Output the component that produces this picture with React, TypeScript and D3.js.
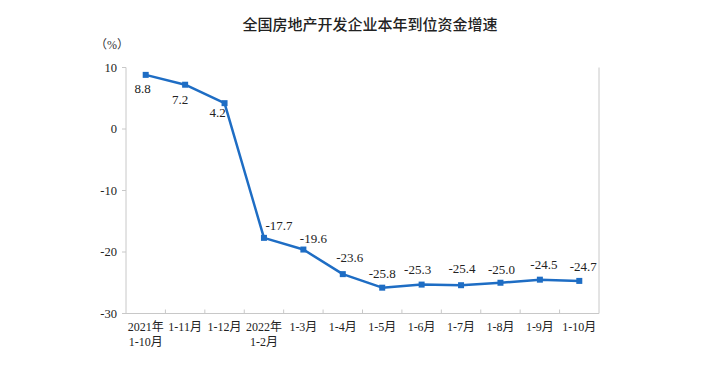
import React from "react";
import * as d3 from "d3";

const categories: string[][] = [
  ["2021年", "1-10月"], ["1-11月"], ["1-12月"], ["2022年", "1-2月"], ["1-3月"], ["1-4月"],
  ["1-5月"], ["1-6月"], ["1-7月"], ["1-8月"], ["1-9月"], ["1-10月"],
];
const values: number[] = [8.8, 7.2, 4.2, -17.7, -19.6, -23.6, -25.8, -25.3, -25.4, -25.0, -24.5, -24.7];
const yTicks: number[] = [10, 0, -10, -20, -30];
const labelOffsets: [number, number][] = [
  [-3, 18], [-5, 19], [-7, 14], [15, -8], [10, -7], [7, -12],
  [0, -10], [-4, -11], [1, -12], [1, -9], [4, -11], [4, -10],
];

export default function App() {
  const W = 710, H = 376;
  const left = 126, right = 599, top = 67.5, bottom = 313.5;
  const x = d3.scaleBand<number>().domain(d3.range(categories.length)).range([left, right]);
  const y = d3.scaleLinear().domain([-30, 10]).range([bottom, top]);
  const line = d3.line<number>().x((_, i) => x(i)! + x.bandwidth() / 2).y((d) => y(d));
  const serif = "'Liberation Serif', 'Times New Roman', 'Noto Sans CJK SC', serif";
  const axisColor = "#c8c8c8";
  const blue = "#1e6dc4";
  return (
    <svg width={W} height={H} style={{ position: "absolute", left: 0, top: 0, background: "#fff" }}>
      <text x={370} y={30} textAnchor="middle" fontFamily="'Noto Sans CJK SC', sans-serif" fontSize={15} fontWeight={500} fill="#222">
        全国房地产开发企业本年到位资金增速
      </text>
      <text x={112} y={49} textAnchor="middle" fontFamily={serif} fontSize={12} fill="#333">（%）</text>
      <line x1={left} x2={left} y1={top} y2={bottom} stroke={axisColor} />
      <line x1={right} x2={right} y1={top} y2={bottom} stroke={axisColor} />
      <line x1={left} x2={right} y1={bottom} y2={bottom} stroke={axisColor} />
      {yTicks.map((t) => (
        <g key={t}>
          <line x1={left - 4} x2={left} y1={y(t)} y2={y(t)} stroke={axisColor} />
          <text x={117} y={y(t) + 4} textAnchor="end" fontFamily={serif} fontSize={12.5} fill="#222">{t}</text>
        </g>
      ))}
      {d3.range(1, categories.length).map((i) => (
        <line key={i} x1={x(i)!} x2={x(i)!} y1={bottom} y2={bottom - 4} stroke={axisColor} />
      ))}
      {categories.map((c, i) => (
        <text key={i} x={x(i)! + x.bandwidth() / 2} textAnchor="middle" fontFamily={serif} fontSize={12} fill="#222">
          {c.map((s, j) => (
            <tspan key={j} x={x(i)! + x.bandwidth() / 2} y={331 + j * 15}>{s}</tspan>
          ))}
        </text>
      ))}
      <path d={line(values)!} fill="none" stroke={blue} strokeWidth={2.5} strokeLinejoin="round" />
      {values.map((v, i) => (
        <rect key={i} x={x(i)! + x.bandwidth() / 2 - 3} y={y(v) - 3} width={6} height={6} fill={blue} />
      ))}
      {values.map((v, i) => (
        <text key={i} x={x(i)! + x.bandwidth() / 2 + labelOffsets[i][0]} y={y(v) + labelOffsets[i][1]} textAnchor="middle"
          fontFamily={serif} fontSize={13} fill="#222">
          {v.toFixed(1)}
        </text>
      ))}
    </svg>
  );
}
